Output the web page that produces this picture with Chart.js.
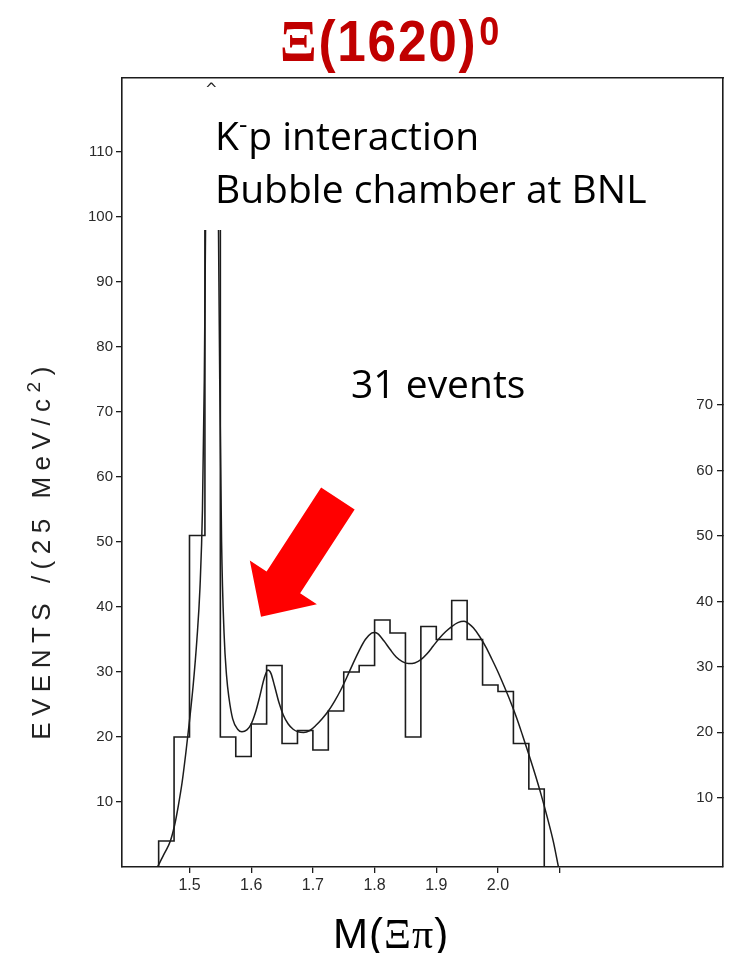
<!DOCTYPE html>
<html>
<head>
<meta charset="utf-8">
<script src="https://cdn.jsdelivr.net/npm/chart.js@4.4.1/dist/chart.umd.min.js"></script>
<style>
    body { margin: 0; background: #fff; }
    #wrap { position: relative; width: 732px; height: 953px; overflow: hidden; }
    #massChart { position: absolute; left: 0; top: 0; }
    .txt { position: absolute; white-space: nowrap; line-height: 1; color: #000; }
    .note { font-family: 'Open Sans', sans-serif; font-size: 39px; }
    .note sup { font-size: 26px; vertical-align: 17px; line-height: 0; margin-left: 0; margin-right: 1px; }
    #title { left: 280px; top: 7px; font: bold 57px 'Liberation Sans', Arial, sans-serif; color: #c00000;
             letter-spacing: 2px; transform: scaleX(0.9); transform-origin: left top; }
    #title .xi { font-family: 'Liberation Serif', serif; font-size: 60px; }
    #title .sup { font-size: 40px; vertical-align: top; position: relative; top: 2px; margin-left: 2px; }
    #xtitle { left: 333px; top: 910px; font: 42px 'Liberation Sans', Arial, sans-serif; letter-spacing: 1px; }
    #xtitle .greek { font-family: 'Liberation Serif', serif; }
    #ytitle { left: -204px; top: 535px; width: 490px; height: 30px; line-height: 30px; text-align: center;
              font: 26px 'Liberation Sans', Arial, sans-serif; letter-spacing: 6.5px; color: #222;
              transform: rotate(-90deg); transform-origin: center; }
    #ytitle sup { font-size: 19px; vertical-align: 10px; line-height: 0; }
    #offscale { left: 205px; top: 80px; font: 15px 'DejaVu Sans', sans-serif; color: #222; }
</style>
</head>
<body>
<div id="wrap">
    <canvas id="massChart" width="732" height="953"></canvas>
    <div id="title" class="txt"><span class="xi">Ξ</span>(1620)<span class="sup">0</span></div>
    <div class="txt note" style="left:215px; top:115px;">K<sup>-</sup>p interaction</div>
    <div class="txt note" style="left:215px; top:168px;">Bubble chamber at BNL</div>
    <div class="txt note" style="left:351px; top:363px;">31 events</div>
    <div id="xtitle" class="txt">M(<span class="greek">Ξπ</span>)</div>
    <div id="ytitle" class="txt">EVENTS /(25 MeV/c<sup>2</sup>)</div>
    <div id="offscale" class="txt">^</div>
</div>
<script>
// histogram: 25 MeV bins of M(Xi pi)
const binEdges = [1.450, 1.475, 1.500, 1.525, 1.550, 1.575, 1.600, 1.625, 1.650, 1.675,
                  1.700, 1.725, 1.750, 1.775, 1.800, 1.825, 1.850, 1.875, 1.900, 1.925,
                  1.950, 1.975, 2.000, 2.025, 2.050, 2.075];
// events per bin, null = runs off the top of the plot (Xi(1530) peak)
const binCounts = [4, 20, 51, null, 20, 17, 22, 31, 19, 21,
                   18, 24, 30, 31, 38, 36, 20, 37, 35, 41,
                   35, 28, 27, 19, 12];
const offScaleCut = 98;

// fitted curve (broken where it leaves the frame)
const fitMass = [1.448, 1.460, 1.469, 1.476, 1.482, 1.488, 1.494, 1.500, 1.506, 1.512,
                 1.517, 1.521, 1.524, 1.526, 1.536, 1.547, 1.549, 1.552, 1.556, 1.560,
                 1.564, 1.570, 1.578, 1.585, 1.593, 1.600, 1.607, 1.614, 1.621, 1.627,
                 1.632, 1.638, 1.645, 1.652, 1.660, 1.668, 1.676, 1.685, 1.695, 1.705,
                 1.715, 1.725, 1.735, 1.745, 1.755, 1.765, 1.775, 1.785, 1.795, 1.800,
                 1.805, 1.815, 1.825, 1.835, 1.845, 1.855, 1.865, 1.875, 1.885, 1.895,
                 1.905, 1.915, 1.925, 1.935, 1.945, 1.952, 1.960, 1.970, 1.980, 1.990,
                 2.000, 2.010, 2.020, 2.030, 2.040, 2.050, 2.060, 2.070, 2.080, 2.090, 2.098];
const fitValue = [0, 2.2, 4, 6.5, 9.5, 13, 17.5, 22.5, 28, 35,
                  43, 55, 75, 98, null, 98, 75, 50, 36, 29.5,
                  26, 22.8, 21.2, 20.8, 21.1, 22, 23.8, 26.3, 29, 30.3,
                  29.8, 27.8, 25.3, 23.4, 22, 21.2, 20.8, 20.7, 21, 21.8,
                  22.8, 24, 25.5, 27.2, 29.2, 31.3, 33.3, 35, 36, 36.1,
                  35.9, 34.8, 33.5, 32.3, 31.6, 31.3, 31.4, 31.9, 32.8, 34,
                  35.2, 36.2, 37, 37.6, 37.8, 37.5, 36.8, 35.5, 33.9, 32,
                  30, 27.8, 25.5, 23, 20.2, 17.3, 14.3, 11.1, 7.6, 3.8, 0];

const massTicks = [1.5, 1.6, 1.7, 1.8, 1.9, 2.0, 2.1];
const massTickLabels = ['1.5', '1.6', '1.7', '1.8', '1.9', '2.0', ''];
const eventTicks = [10, 20, 30, 40, 50, 60, 70, 80, 90, 100, 110];
const sideTicks = [10, 20, 30, 40, 50, 60, 70];

// arrow pointing at the 1620 bump: tail and tip in data units
const arrowTail = { x: 1.7405, y: 56.7 };
const arrowTip = { x: 1.6159, y: 38.5 };

const ink = '#1c1c1c';
const tickFont = { family: "'Liberation Sans', Arial, sans-serif", size: 15 };

function histogramOutline() {
    const pts = [{ x: binEdges[0], y: 0 }];
    binCounts.forEach((c, i) => {
        const h = c === null ? offScaleCut : c;
        pts.push({ x: binEdges[i], y: h }, { x: binEdges[i + 1], y: h });
    });
    pts.push({ x: binEdges[binEdges.length - 1], y: 0 });
    return pts;
}

const arrowPlugin = {
    id: 'redArrow',
    afterDatasetsDraw(chart) {
        const { ctx, scales: { x, y } } = chart;
        const tx = x.getPixelForValue(arrowTail.x), ty = y.getPixelForValue(arrowTail.y);
        const px = x.getPixelForValue(arrowTip.x), py = y.getPixelForValue(arrowTip.y);
        const len = Math.hypot(px - tx, py - ty);
        const ux = (px - tx) / len, uy = (py - ty) / len;
        const nx = -uy, ny = ux;
        const headLen = 41, headHalf = 40, shaftHalf = 20;
        const bx = px - ux * headLen, by = py - uy * headLen;

        ctx.save();
        ctx.fillStyle = '#ff0000';
        ctx.beginPath();
        ctx.moveTo(tx + nx * shaftHalf, ty + ny * shaftHalf);
        ctx.lineTo(bx + nx * shaftHalf, by + ny * shaftHalf);
        ctx.lineTo(bx + nx * headHalf, by + ny * headHalf);
        ctx.lineTo(px, py);
        ctx.lineTo(bx - nx * headHalf, by - ny * headHalf);
        ctx.lineTo(bx - nx * shaftHalf, by - ny * shaftHalf);
        ctx.lineTo(tx - nx * shaftHalf, ty - ny * shaftHalf);
        ctx.closePath();
        ctx.fill();
        ctx.restore();
    }
};

const ctx = document.getElementById('massChart').getContext('2d');

new Chart(ctx, {
    type: 'line',
    data: {
        datasets: [
            {
                label: 'Events',
                data: histogramOutline(),
                borderColor: ink,
                borderWidth: 1.6,
                pointRadius: 0,
                tension: 0,
                segment: {
                    // open top on the off-scale bin
                    borderColor: c => (c.p0.parsed.y === offScaleCut && c.p1.parsed.y === offScaleCut) ? 'rgba(0,0,0,0)' : ink
                }
            },
            {
                label: 'Fit',
                data: fitMass.map((m, i) => ({ x: m, y: fitValue[i] })),
                borderColor: ink,
                borderWidth: 1.5,
                pointRadius: 0,
                cubicInterpolationMode: 'monotone',
                spanGaps: false
            }
        ]
    },
    options: {
        responsive: false,
        animation: false,
        events: [],
        layout: { padding: { top: 78 } },
        plugins: {
            legend: { display: false },
            tooltip: { enabled: false }
        },
        scales: {
            x: {
                type: 'linear',
                position: 'bottom',
                min: 1.3906,
                max: 2.3647,
                afterFit: s => { s.height = 86; },
                afterBuildTicks: s => { s.ticks = massTicks.map(v => ({ value: v })); },
                ticks: {
                    color: '#2a2a2a',
                    font: { family: tickFont.family, size: 16 },
                    padding: 3,
                    maxRotation: 0,
                    autoSkip: false,
                    callback: (v, i) => massTickLabels[i]
                },
                grid: { drawOnChartArea: false, tickLength: 6, color: ink, lineWidth: 1.3 },
                border: { color: ink, width: 1.6 }
            },
            xTop: {
                type: 'linear',
                position: 'top',
                min: 1.3906,
                max: 2.3647,
                afterFit: s => { s.height = 0; },
                ticks: { display: false },
                grid: { display: false },
                border: { color: ink, width: 1.6 }
            },
            y: {
                type: 'linear',
                position: 'left',
                min: 0,
                max: 121.4,
                afterFit: s => { s.width = 122; },
                afterBuildTicks: s => { s.ticks = eventTicks.map(v => ({ value: v })); },
                ticks: { color: '#2a2a2a', font: tickFont, padding: 3 },
                grid: { drawOnChartArea: false, tickLength: 6, color: ink, lineWidth: 1.3 },
                border: { color: ink, width: 1.6 }
            },
            yRight: {
                type: 'linear',
                position: 'right',
                min: -0.6,
                max: 120,
                afterFit: s => { s.width = 9; },
                afterBuildTicks: s => { s.ticks = sideTicks.map(v => ({ value: v })); },
                ticks: { color: '#2a2a2a', font: tickFont, mirror: true, padding: -10 },
                grid: { drawOnChartArea: false, tickLength: -6, color: ink, lineWidth: 1.3 },
                border: { color: ink, width: 1.6 }
            }
        }
    },
    plugins: [arrowPlugin]
});
</script>
</body>
</html>
